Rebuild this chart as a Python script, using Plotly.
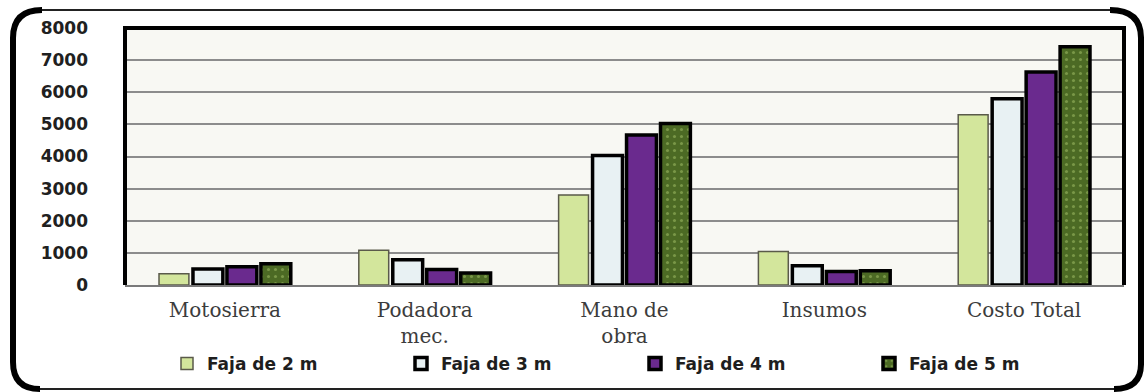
import plotly.graph_objects as go

# Cost components per strip width
categories = ["Motosierra", "Podadora<br>mec.", "Mano de<br>obra", "Insumos", "Costo Total"]
faja_2m = [350, 1080, 2800, 1040, 5300]
faja_3m = [500, 785, 4030, 600, 5800]
faja_4m = [570, 480, 4670, 420, 6630]
faja_5m = [660, 375, 5030, 440, 7420]
series_names = ["Faja de 2 m", "Faja de 3 m", "Faja de 4 m", "Faja de 5 m"]
y_ticks = [0, 1000, 2000, 3000, 4000, 5000, 6000, 7000, 8000]

W, H = 1144, 392
ML, MR, MT, MB = 125, 20, 28, 107
PW, PH = W - ML - MR, H - MT - MB


def px(x, y):
    """Pixel position -> paper coordinates."""
    return (x - ML) / PW, (H - MB - y) / PH


def path(points_cmds):
    out = []
    for cmd, pts in points_cmds:
        coords = " ".join("%.5f,%.5f" % px(*p) for p in pts)
        out.append(cmd + coords)
    return " ".join(out)


fig = go.Figure()

fig.add_trace(go.Bar(
    x=categories, y=faja_2m, name=series_names[0],
    marker=dict(color="#d3e69c", line=dict(color="#5a5a4a", width=1.5)),
))
fig.add_trace(go.Bar(
    x=categories, y=faja_3m, name=series_names[1],
    marker=dict(color="#e8f1f3", line=dict(color="#000000", width=3.5)),
))
fig.add_trace(go.Bar(
    x=categories, y=faja_4m, name=series_names[2],
    marker=dict(color="#6a2a8e", line=dict(color="#000000", width=3.5)),
))
fig.add_trace(go.Bar(
    x=categories, y=faja_5m, name=series_names[3],
    marker=dict(
        color="#4c6a24",
        line=dict(color="#000000", width=3.5),
        pattern=dict(shape=".", fgcolor="#a6c46a", bgcolor="#4c6a24", size=7, solidity=0.15),
    ),
))

shapes = []
# plot-area frame: heavy black on top, left and right
shapes.append(dict(
    type="path", xref="paper", yref="paper",
    path="M0,0 L0,1 L1,1 L1,0",
    line=dict(color="#000000", width=4), layer="above",
))
# outer rounded frame
shapes.append(dict(
    type="path", xref="paper", yref="paper",
    path=path([
        ("M", [(40, 10)]), ("L", [(1112, 10)]), ("Q", [(1141, 10), (1141, 38)]),
        ("L", [(1141, 364)]), ("Q", [(1141, 389), (1116, 389)]),
        ("L", [(40, 389)]), ("Q", [(13, 389), (13, 362)]),
        ("L", [(13, 37)]), ("Q", [(13, 10), (40, 10)]),
    ]),
    line=dict(color="#222222", width=2),
))
shapes.append(dict(
    type="path", xref="paper", yref="paper",
    path=path([
        ("M", [(42, 10)]), ("Q", [(13, 10), (13, 38)]),
        ("L", [(13, 362)]), ("Q", [(13, 389), (40, 389)]),
    ]),
    line=dict(color="#000000", width=6),
))
shapes.append(dict(
    type="path", xref="paper", yref="paper",
    path=path([
        ("M", [(1110, 10)]), ("Q", [(1141, 10), (1141, 38)]),
        ("L", [(1141, 364)]), ("Q", [(1141, 389), (1114, 389)]),
    ]),
    line=dict(color="#000000", width=6),
))

fig.update_layout(
    width=W, height=H,
    margin=dict(l=ML, r=MR, t=MT, b=MB, autoexpand=False),
    paper_bgcolor="#ffffff",
    plot_bgcolor="#f8f8f3",
    barmode="group",
    bargap=0.32,
    bargroupgap=0.12,
    showlegend=True,
    legend=dict(
        orientation="h",
        xref="container", yref="container",
        x=167 / W, xanchor="left",
        y=1 - 364 / H, yanchor="middle",
        entrywidth=189, entrywidthmode="pixels",
        font=dict(family="DejaVu Sans", size=17, color="#1e1e1e", weight="bold"),
        bgcolor="rgba(0,0,0,0)",
        traceorder="normal",
    ),
    shapes=shapes,
    xaxis=dict(
        automargin=False,
        showgrid=False,
        showline=True, linecolor="#7a7a7a", linewidth=2,
        ticks="",
        tickfont=dict(family="DejaVu Serif", size=20, color="#3c3c3c"),
        ticklabelstandoff=6,
    ),
    yaxis=dict(
        automargin=False,
        range=[0, 8000],
        tickvals=y_ticks,
        ticktext=[str(v) for v in y_ticks],
        showgrid=True, gridcolor="#8c8c8c", gridwidth=2,
        zeroline=False,
        showline=False,
        ticks="",
        ticklabelstandoff=36,
        tickfont=dict(family="DejaVu Sans", size=17, color="#202020", weight="bold"),
    ),
)

fig.write_html("out.html")
